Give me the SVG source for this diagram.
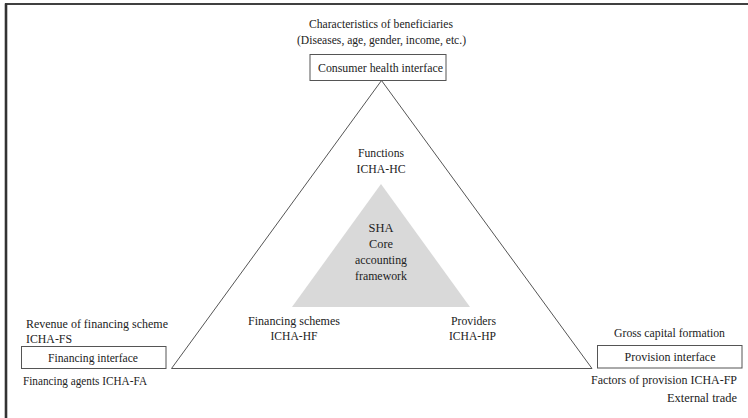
<svg xmlns="http://www.w3.org/2000/svg" width="748" height="418" viewBox="0 0 748 418" font-family="'Liberation Serif', 'DejaVu Serif', serif">
<style>
text{font-family:'Liberation Serif','DejaVu Serif',serif;font-size:12.5px;fill:#222;}
.m{text-anchor:middle;}
.e{text-anchor:end;}
.box{fill:#fff;stroke:#555;stroke-width:1;}
.edge{fill:none;stroke:#555;stroke-width:1;}
</style>
<rect x="0" y="0" width="748" height="418" fill="#fff"/>
<line x1="5" y1="4" x2="748" y2="4" stroke="#000" stroke-width="1.6"/>
<line x1="6" y1="3.5" x2="6" y2="418" stroke="#333" stroke-width="2.6"/>
<g id="connectors">
<polyline class="edge" points="171.5,368.5 381.5,80.5 592,368.5 171.5,368.5"/>
</g>
<g id="core">
<polygon points="381,184 292,307 470,307" fill="#d9d9d9"/>
<text class="m" x="381" y="232" textLength="25" lengthAdjust="spacingAndGlyphs">SHA</text>
<text class="m" x="381" y="248" textLength="24" lengthAdjust="spacingAndGlyphs">Core</text>
<text class="m" x="381" y="264" textLength="52" lengthAdjust="spacingAndGlyphs">accounting</text>
<text class="m" x="381" y="280" textLength="52" lengthAdjust="spacingAndGlyphs">framework</text>
</g>
<g id="functions">
<text class="m" x="381" y="157" textLength="46" lengthAdjust="spacingAndGlyphs">Functions</text>
<text class="m" x="381" y="173" textLength="49" lengthAdjust="spacingAndGlyphs">ICHA-HC</text>
</g>
<g id="financing-schemes">
<text class="m" x="294" y="325" textLength="92" lengthAdjust="spacingAndGlyphs">Financing schemes</text>
<text class="m" x="294" y="340" textLength="47" lengthAdjust="spacingAndGlyphs">ICHA-HF</text>
</g>
<g id="providers">
<text class="e" x="496" y="325" textLength="45" lengthAdjust="spacingAndGlyphs">Providers</text>
<text class="e" x="496" y="340" textLength="47" lengthAdjust="spacingAndGlyphs">ICHA-HP</text>
</g>
<g id="consumer">
<text class="m" x="381" y="28" textLength="144" lengthAdjust="spacingAndGlyphs">Characteristics of beneficiaries</text>
<text class="m" x="381.5" y="44" textLength="169" lengthAdjust="spacingAndGlyphs">(Diseases, age, gender, income, etc.)</text>
<rect class="box" x="310" y="54.5" width="136" height="26"/>
<text class="m" x="380.5" y="72" textLength="125" lengthAdjust="spacingAndGlyphs">Consumer health interface</text>
</g>
<g id="financing">
<text x="26" y="328" textLength="142" lengthAdjust="spacingAndGlyphs">Revenue of financing scheme</text>
<text x="26" y="343" textLength="46" lengthAdjust="spacingAndGlyphs">ICHA-FS</text>
<rect class="box" x="21.5" y="346.5" width="144.5" height="22"/>
<text class="m" x="93" y="362" textLength="90" lengthAdjust="spacingAndGlyphs">Financing interface</text>
<text x="23" y="385" textLength="124" lengthAdjust="spacingAndGlyphs">Financing agents ICHA-FA</text>
</g>
<g id="provision">
<text x="614" y="337" textLength="111" lengthAdjust="spacingAndGlyphs">Gross capital formation</text>
<rect class="box" x="597.5" y="345.5" width="144.5" height="22.5"/>
<text class="m" x="670" y="361" textLength="91" lengthAdjust="spacingAndGlyphs">Provision interface</text>
<text class="e" x="737" y="384" textLength="146" lengthAdjust="spacingAndGlyphs">Factors of provision ICHA-FP</text>
<text class="e" x="737" y="402" textLength="70" lengthAdjust="spacingAndGlyphs">External trade</text>
</g>
</svg>
